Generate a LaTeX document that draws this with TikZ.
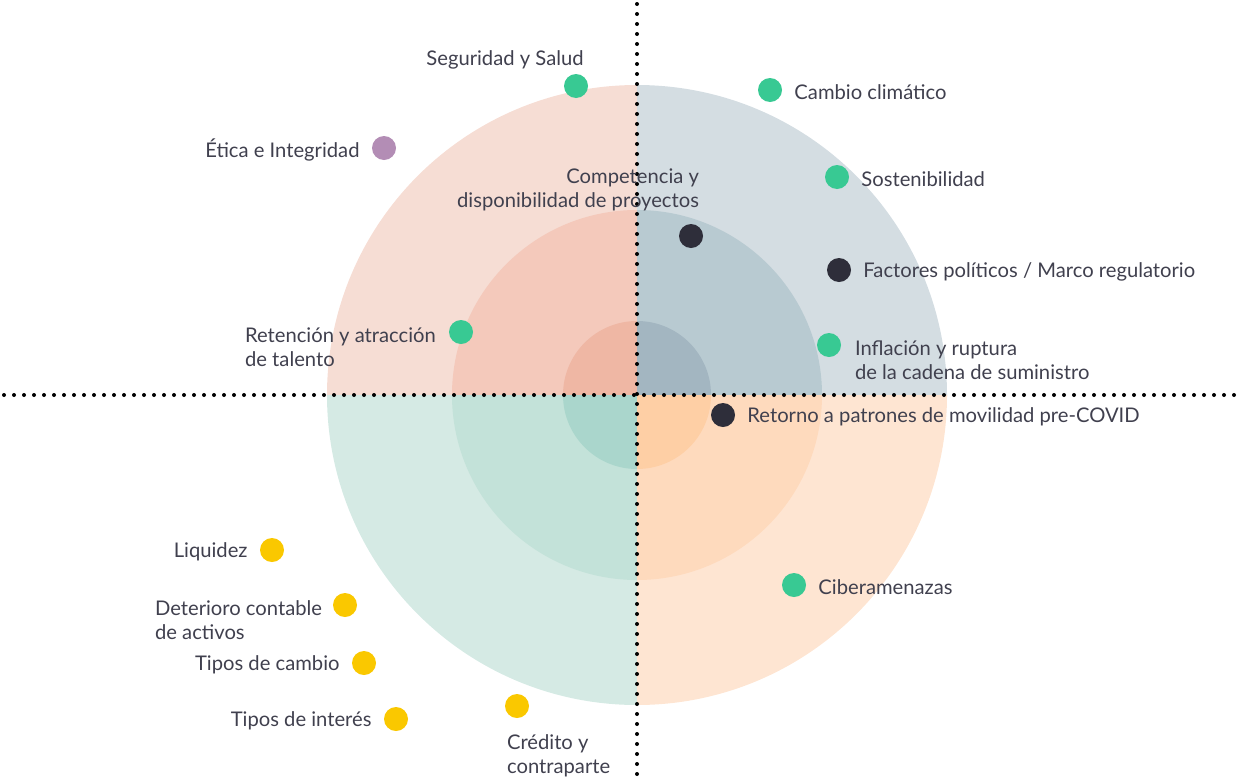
\documentclass[tikz,border=0pt]{standalone}
\usepackage{fontspec}
\setmainfont{Lato}
\definecolor{txt}{HTML}{40404E}
\definecolor{tlA}{HTML}{F6DDD4}
\definecolor{tlB}{HTML}{F4C9BB}
\definecolor{tlC}{HTML}{EFB7A4}
\definecolor{trA}{HTML}{D4DDE2}
\definecolor{trB}{HTML}{B8CAD1}
\definecolor{trC}{HTML}{A3B6C1}
\definecolor{blA}{HTML}{D5EAE4}
\definecolor{blB}{HTML}{C3E2D9}
\definecolor{blC}{HTML}{AAD6CC}
\definecolor{brA}{HTML}{FEE5D2}
\definecolor{brB}{HTML}{FEDABD}
\definecolor{brC}{HTML}{FECFA5}
\definecolor{dgreen}{HTML}{38C993}
\definecolor{ddark}{HTML}{2E2E3A}
\definecolor{dyellow}{HTML}{FAC800}
\definecolor{dpurple}{HTML}{B38DB5}
\begin{document}
\begin{tikzpicture}[x=0.5pt,y=-0.5pt,label distance=2.5pt]
    \tikzstyle{lbl}=[text=txt,font=\fontsize{10.1}{12}\selectfont];
    \tikzstyle{every label}=[lbl,yshift=-1pt];
    \tikzstyle{dot}=[circle,minimum size=12pt,inner sep=0pt];
    \tikzstyle{gdot}=[dot,fill=dgreen];
    \tikzstyle{kdot}=[dot,fill=ddark];
    \tikzstyle{ydot}=[dot,fill=dyellow];
    \tikzstyle{pdot}=[dot,fill=dpurple];
    \tikzstyle{axis}=[line width=2pt,line cap=round,dash pattern=on 0pt off 5pt];
    \useasboundingbox (0,0) rectangle (1237,782);
    \coordinate (c) at (637,395);

    % quadrants
    \begin{scope}
      \clip (0,0) rectangle (637,395);
      \fill[tlA] (c) circle (310);
      \fill[tlB] (c) circle (185);
      \fill[tlC] (c) circle (74);
    \end{scope}
    \begin{scope}
      \clip (637,0) rectangle (1237,395);
      \fill[trA] (c) circle (310);
      \fill[trB] (c) circle (185);
      \fill[trC] (c) circle (74);
    \end{scope}
    \begin{scope}
      \clip (0,395) rectangle (637,782);
      \fill[blA] (c) circle (310);
      \fill[blB] (c) circle (185);
      \fill[blC] (c) circle (74);
    \end{scope}
    \begin{scope}
      \clip (637,395) rectangle (1237,782);
      \fill[brA] (c) circle (310);
      \fill[brB] (c) circle (185);
      \fill[brC] (c) circle (74);
    \end{scope}

    % axes
    \coordinate (top) at (637,4);
    \coordinate (bot) at (637,780);
    \coordinate (lft) at (4,395);
    \coordinate (rgt) at (1235,395);
    \draw[axis] (top) -- (bot);
    \draw[axis] (lft) -- (rgt);

    % risks
    \node at (576,86)  (seg) [gdot] {};
    \node at (505,60)  (segt) [lbl] {Seguridad y Salud};
    \node at (384,148) (etica) [pdot,label=left:{Ética e Integridad}] {};
    \node at (770,90)  (clima) [gdot,label=right:{Cambio climático}] {};
    \node at (837,177) (sost) [gdot,label=right:{Sostenibilidad}] {};
    \node at (691,236) (comp) [kdot] {};
    \node at (706,190) (compt) [lbl,anchor=east,align=right] {Competencia y\\disponibilidad de proyectos};
    \node at (839,270) (polit) [kdot,label=right:{Factores políticos / Marco regulatorio}] {};
    \node at (461,332) (talento) [gdot] {};
    \node at (238,347) (talentot) [lbl,anchor=west,align=left] {Retención y atracción\\de talento};
    \node at (829,345) (infl) [gdot] {};
    \node at (848,360) (inflt) [lbl,anchor=west,align=left] {Inflación y ruptura\\de la cadena de suministro};
    \node at (723,415) (movil) [kdot,label=right:{Retorno a patrones de movilidad pre-COVID}] {};
    \node at (794,585) (ciber) [gdot,label=right:{Ciberamenazas}] {};
    \node at (272,550) (liq) [ydot,label=left:{Liquidez}] {};
    \node at (345,605) (deter) [ydot] {};
    \node at (148,620) (detert) [lbl,anchor=west,align=left] {Deterioro contable\\de activos};
    \node at (364,663) (cambio) [ydot,label=left:{Tipos de cambio}] {};
    \node at (396,719) (interes) [ydot,label=left:{Tipos de interés}] {};
    \node at (517,706) (credito) [ydot] {};
    \node at (500,756) (creditot) [lbl,anchor=west,align=left] {Crédito y\\contraparte};
\end{tikzpicture}
\end{document}
